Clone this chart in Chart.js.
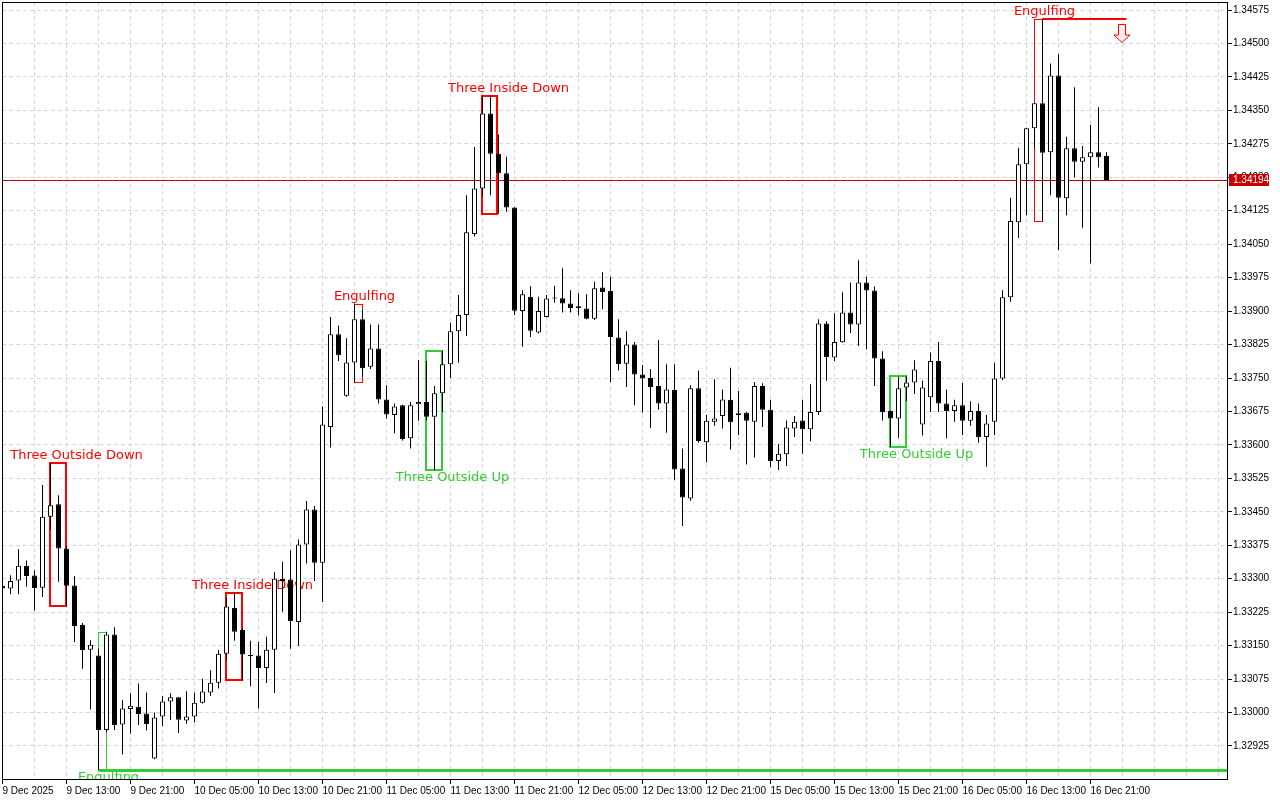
<!DOCTYPE html>
<html><head><meta charset="utf-8">
<script src="https://cdn.jsdelivr.net/npm/chart.js@4.4.1/dist/chart.umd.min.js"></script>
<style>html,body{margin:0;padding:0;background:#fff;overflow:hidden}canvas{display:block}</style>
</head><body>
<canvas id="c" width="1280" height="800" style="width:1280px;height:800px"></canvas>
<script>
// Hourly bars, 9 Dec 2025 05:00 ... 16 Dec 2025 23:00 (bar index = category)
const opens = [1.33284,1.33278,1.33296,1.33329,1.33307,1.33280,1.33439,1.33467,1.33368,1.33285,
1.33196,1.33141,1.33128,1.32961,1.33175,1.32973,1.33008,1.33013,1.32998,1.32897,
1.32991,1.33025,1.33034,1.32982,1.32991,1.33022,1.33045,1.33067,1.33132,1.33235,
1.33185,1.33128,1.33128,1.33100,1.33141,1.33300,1.33298,1.33203,1.33377,1.33455,
1.33336,1.33640,1.33848,1.33710,1.33785,1.33882,1.33775,1.33816,1.33702,1.33667,
1.33689,1.33615,1.33691,1.33696,1.33663,1.33716,1.33781,1.33855,1.33891,1.34073,
1.34175,1.34343,1.34253,1.34209,1.34132,1.33900,1.33932,1.33852,1.33887,1.33928,
1.33929,1.33917,1.33911,1.33906,1.33883,1.33953,1.33945,1.33841,1.33782,1.33825,
1.33758,1.33750,1.33732,1.33693,1.33723,1.33547,1.33480,1.33727,1.33606,1.33652,
1.33665,1.33701,1.33671,1.33672,1.33652,1.33732,1.33679,1.33564,1.33579,1.33637,
1.33655,1.33635,1.33674,1.33872,1.33796,1.33830,1.33897,1.33870,1.33964,1.33946,
1.33794,1.33676,1.33659,1.33729,1.33740,1.33646,1.33707,1.33788,1.33693,1.33676,
1.33689,1.33654,1.33676,1.33618,1.33652,1.33749,1.33931,1.34099,1.34229,1.34310,
1.34366,1.34256,1.34428,1.34153,1.34265,1.34235,1.34245,1.34256,1.34248];
const highs = [1.33290,1.33308,1.33366,1.33341,1.33319,1.33510,1.33559,1.33487,1.33373,1.33306,
1.33201,1.33162,1.33143,1.33181,1.33191,1.33028,1.33043,1.33065,1.33045,1.33000,
1.33037,1.33043,1.33035,1.33048,1.33045,1.33076,1.33095,1.33140,1.33256,1.33269,
1.33189,1.33161,1.33158,1.33170,1.33315,1.33338,1.33364,1.33388,1.33474,1.33463,
1.33686,1.33887,1.33868,1.33839,1.33917,1.33902,1.33870,1.33870,1.33734,1.33693,
1.33690,1.33696,1.33790,1.33788,1.33732,1.33811,1.33874,1.33936,1.34160,1.34268,
1.34383,1.34383,1.34296,1.34246,1.34133,1.33947,1.33956,1.33932,1.33936,1.33957,
1.33996,1.33947,1.33940,1.33938,1.33966,1.33987,1.33977,1.33882,1.33855,1.33831,
1.33779,1.33770,1.33835,1.33781,1.33781,1.33592,1.33734,1.33767,1.33667,1.33747,
1.33724,1.33773,1.33721,1.33674,1.33741,1.33738,1.33701,1.33602,1.33655,1.33665,
1.33701,1.33736,1.33882,1.33877,1.33895,1.33942,1.33964,1.34014,1.33977,1.33955,
1.33810,1.33677,1.33753,1.33755,1.33790,1.33744,1.33807,1.33831,1.33724,1.33701,
1.33739,1.33698,1.33693,1.33667,1.33784,1.33947,1.34154,1.34266,1.34311,1.34367,
1.34556,1.34455,1.34476,1.34291,1.34402,1.34270,1.34317,1.34357,1.34256];
const lows = [1.33274,1.33265,1.33265,1.33282,1.33229,1.33259,1.33409,1.33293,1.33239,1.33158,
1.33098,1.33007,1.32871,1.32956,1.32961,1.32906,1.32953,1.32972,1.32960,1.32895,
1.32970,1.32983,1.32954,1.32975,1.32978,1.33020,1.33037,1.33054,1.33117,1.33161,
1.33072,1.33059,1.33009,1.33066,1.33044,1.33226,1.33143,1.33149,1.33334,1.33295,
1.33248,1.33594,1.33788,1.33708,1.33740,1.33753,1.33770,1.33693,1.33659,1.33626,
1.33610,1.33592,1.33654,1.33655,1.33544,1.33674,1.33750,1.33784,1.33844,1.34067,
1.34160,1.34160,1.34118,1.34123,1.33891,1.33820,1.33842,1.33850,1.33886,1.33919,
1.33897,1.33897,1.33890,1.33882,1.33880,1.33904,1.33741,1.33767,1.33730,1.33689,
1.33672,1.33638,1.33679,1.33627,1.33522,1.33418,1.33475,1.33605,1.33561,1.33643,
1.33637,1.33590,1.33622,1.33556,1.33572,1.33640,1.33550,1.33544,1.33553,1.33618,
1.33580,1.33608,1.33667,1.33744,1.33788,1.33829,1.33851,1.33822,1.33814,1.33732,
1.33655,1.33596,1.33616,1.33698,1.33714,1.33621,1.33674,1.33674,1.33615,1.33652,
1.33622,1.33643,1.33605,1.33551,1.33622,1.33745,1.33921,1.34064,1.34115,1.34265,
1.34102,1.34160,1.34037,1.34115,1.34200,1.34087,1.34007,1.34222,1.34192];
const closes = [1.33278,1.33295,1.33329,1.33306,1.33279,1.33439,1.33465,1.33368,1.33284,1.33194,
1.33140,1.33152,1.32961,1.33175,1.32972,1.33009,1.33015,1.32997,1.32974,1.32989,
1.33025,1.33034,1.32984,1.32991,1.33022,1.33047,1.33067,1.33132,1.33238,1.33181,
1.33130,1.33127,1.33100,1.33141,1.33300,1.33295,1.33205,1.33377,1.33455,1.33336,
1.33646,1.33848,1.33801,1.33785,1.33882,1.33772,1.33816,1.33702,1.33668,1.33686,
1.33613,1.33689,1.33696,1.33663,1.33716,1.33781,1.33855,1.33891,1.34077,1.34175,
1.34343,1.34253,1.34209,1.34132,1.33901,1.33938,1.33856,1.33900,1.33928,1.33929,
1.33917,1.33907,1.33907,1.33883,1.33951,1.33943,1.33842,1.33781,1.33825,1.33758,
1.33749,1.33730,1.33693,1.33724,1.33545,1.33482,1.33727,1.33609,1.33654,1.33659,
1.33702,1.33651,1.33667,1.33654,1.33732,1.33679,1.33564,1.33580,1.33639,1.33652,
1.33635,1.33674,1.33872,1.33797,1.33831,1.33897,1.33870,1.33964,1.33946,1.33794,
1.33674,1.33659,1.33727,1.33740,1.33769,1.33729,1.33788,1.33693,1.33676,1.33689,
1.33654,1.33676,1.33618,1.33648,1.33749,1.33931,1.34102,1.34229,1.34310,1.34366,
1.34255,1.34428,1.34154,1.34265,1.34235,1.34245,1.34256,1.34245,1.34194];
// one label every 8 bars
const xTickLabels = ['9 Dec 2025','9 Dec 13:00','9 Dec 21:00','10 Dec 05:00','10 Dec 13:00','10 Dec 21:00',
'11 Dec 05:00','11 Dec 13:00','11 Dec 21:00','12 Dec 05:00','12 Dec 13:00','12 Dec 21:00',
'15 Dec 05:00','15 Dec 13:00','15 Dec 21:00','16 Dec 05:00','16 Dec 13:00','16 Dec 21:00'];
const yTickValues = [1.32925,1.33000,1.33075,1.33150,1.33225,1.33300,1.33375,1.33450,1.33525,1.33600,
1.33675,1.33750,1.33825,1.33900,1.33975,1.34050,1.34125,1.34200,1.34275,1.34350,1.34425,1.34500,1.34575];
// candlestick patterns: first/last bar index
const patterns = [
  {name:'Three Outside Down', first:6, last:8, dir:'down', thin:false},
  {name:'Engulfing', first:12, last:13, dir:'up', thin:true, level:true},
  {name:'Three Inside Down', first:28, last:30, dir:'down', thin:false},
  {name:'Engulfing', first:44, last:45, dir:'down', thin:true},
  {name:'Three Outside Up', first:53, last:55, dir:'up', thin:false},
  {name:'Three Inside Down', first:60, last:62, dir:'down', thin:false},
  {name:'Three Outside Up', first:111, last:113, dir:'up', thin:false},
  {name:'Engulfing', first:129, last:130, dir:'down', thin:true, level:true, signalBar:140}
];

const RED = '#ff0000', GREEN = '#32cd32', GRID = '#d6d6d6';
const AXIS_FONT = {family:'"Liberation Sans", Arial, sans-serif', size:10};

const overlay = {
  id:'overlay',
  beforeDatasetsDraw(chart){
    const {ctx, chartArea:a, scales:{x, y}} = chart;
    ctx.save();
    ctx.beginPath(); ctx.rect(a.left, a.top, a.right-a.left, a.bottom-a.top); ctx.clip();
    const last = closes[closes.length-1];
    const py = Math.round(y.getPixelForValue(last)) + 0.5;
    ctx.strokeStyle = '#c00000'; ctx.lineWidth = 1;
    ctx.beginPath(); ctx.moveTo(a.left, py); ctx.lineTo(a.right, py); ctx.stroke();

    patterns.forEach(p => {
      let hi = -Infinity, lo = Infinity;
      for (let i = p.first; i <= p.last; i++) { hi = Math.max(hi, highs[i]); lo = Math.min(lo, lows[i]); }
      const col = p.dir === 'down' ? RED : GREEN;
      const x1 = x.getPixelForValue(p.first), x2 = x.getPixelForValue(p.last);
      const y1 = Math.round(y.getPixelForValue(hi)), y2 = Math.round(y.getPixelForValue(lo));
      ctx.strokeStyle = col;
      if (p.thin) { ctx.lineWidth = 1; ctx.strokeRect(x1, y1 + 0.5, x2 - x1, y2 - y1); }
      else { ctx.lineWidth = 2; ctx.strokeRect(Math.round(x1) - 1, y1, Math.round(x2) - Math.round(x1), y2 - y1); }
      if (p.level) {
        if (p.dir === 'up') {
          ctx.lineWidth = 3;
          ctx.beginPath(); ctx.moveTo(x1, y2 + 0.5); ctx.lineTo(a.right, y2 + 0.5); ctx.stroke();
        } else {
          const xe = x.getPixelForValue(p.signalBar + 0.5);
          ctx.lineWidth = 2;
          ctx.beginPath(); ctx.moveTo(x2, y1); ctx.lineTo(xe, y1); ctx.stroke();
          const cx = x.getPixelForValue(p.signalBar) - 0.5, t = y1 + 5.5;
          ctx.beginPath();
          ctx.moveTo(cx - 3.5, t); ctx.lineTo(cx + 3.5, t); ctx.lineTo(cx + 3.5, t + 10.5);
          ctx.lineTo(cx + 8, t + 10.5); ctx.lineTo(cx, t + 18); ctx.lineTo(cx - 8, t + 10.5);
          ctx.lineTo(cx - 3.5, t + 10.5); ctx.closePath();
          ctx.fillStyle = '#ffeef0'; ctx.fill();
          ctx.lineWidth = 1; ctx.strokeStyle = RED; ctx.stroke();
        }
      }
      ctx.fillStyle = col; ctx.font = '13px "DejaVu Sans", sans-serif';
      ctx.textAlign = 'center'; ctx.textBaseline = 'middle';
      const lx = x.getPixelForValue(2 * p.last - p.first - 0.75);
      ctx.fillText(p.name, lx, p.dir === 'down' ? y1 - 7.5 : y2 + 8);
    });
    ctx.restore();
  },
  afterDraw(chart){
    const {ctx, chartArea:a, scales:{y}} = chart;
    ctx.save();
    ctx.strokeStyle = '#000'; ctx.lineWidth = 1;
    ctx.strokeRect(a.left + 0.5, a.top + 0.5, a.right - a.left, a.bottom - a.top);
    const last = closes[closes.length-1];
    const py = Math.round(y.getPixelForValue(last));
    ctx.fillStyle = '#c80000'; ctx.fillRect(a.right + 2, py - 6, 40, 12);
    ctx.fillStyle = '#ffffff'; ctx.font = '10px "Liberation Sans", Arial, sans-serif';
    ctx.textAlign = 'left'; ctx.textBaseline = 'middle';
    ctx.fillText(last.toFixed(5), a.right + 6, py + 0.5);
    ctx.restore();
  }
};

const bodyData = opens.map((o, i) => ({x: i, y: [o, closes[i]]}));
const wickData = lows.map((l, i) => ({x: i, y: [l, highs[i]]}));

new Chart(document.getElementById('c'), {
  type: 'bar',
  data: {
    datasets: [
      {label:'Body', order:0, data: bodyData,
       backgroundColor: opens.map((o, i) => closes[i] >= o ? '#ffffff' : '#000000'),
       borderColor:'#000000', borderWidth:1, borderSkipped:false, barThickness:5,
       grouped:false, inflateAmount:0, minBarLength:1},
      {label:'Wick', order:1, data: wickData, backgroundColor:'#000000', borderWidth:0,
       barThickness:1, grouped:false, inflateAmount:0}
    ]
  },
  options: {
    responsive:false, animation:false, devicePixelRatio:1, events:[],
    layout:{padding:{left:2, top:2, right:0, bottom:0}},
    plugins:{legend:{display:false}, tooltip:{enabled:false}},
    scales:{
      x:{
        type:'linear', min:-0.0625, max:153.0625, bounds:'data', offset:false,
        afterBuildTicks: s => { const t = []; for (let v = 0; v <= 152; v += 4) t.push({value:v}); s.ticks = t; },
        afterFit: s => { s.height = 21; s.paddingLeft = 0; s.paddingRight = 0; },
        ticks:{autoSkip:false, maxRotation:0, minRotation:0, align:'start', padding:1, color:'#000', font:AXIS_FONT,
          callback: v => (v % 8 === 0 && xTickLabels[v / 8]) ? xTickLabels[v / 8] : ''},
        grid:{
          offset:false,
          color: c => (c.tick && c.tick.value > 0) ? GRID : 'rgba(0,0,0,0)',
          tickColor: c => (c.tick && c.tick.value % 8 === 0 && xTickLabels[c.tick.value / 8]) ? '#000' : 'rgba(0,0,0,0)',
          tickLength:5, tickWidth:1, lineWidth:1, tickBorderDash:[]
        },
        border:{display:false, dash:[4,3]}
      },
      y:{
        type:'linear', position:'right', min:1.32851, max:1.34593, bounds:'data',
        afterBuildTicks: s => { s.ticks = yTickValues.map(v => ({value:v})); },
        afterFit: s => { s.width = 53; s.paddingTop = 0; s.paddingBottom = 0; },
        ticks:{autoSkip:false, padding:1, color:'#000', font:AXIS_FONT, callback: v => Number(v).toFixed(5)},
        grid:{color:GRID, tickColor:'#000', tickLength:5, tickWidth:1, lineWidth:1, tickBorderDash:[]},
        border:{display:false, dash:[4,3]}
      }
    }
  },
  plugins:[overlay]
});
</script>
</body></html>
